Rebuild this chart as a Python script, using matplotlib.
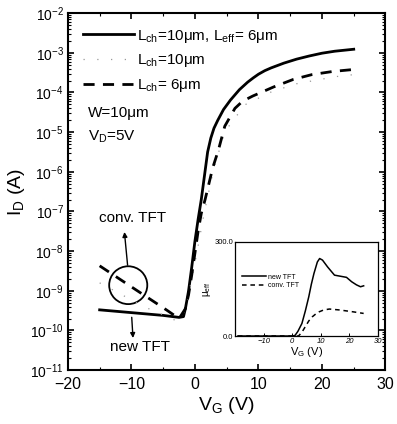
import numpy as np
import matplotlib
matplotlib.use("Agg")
import matplotlib.pyplot as plt
from matplotlib.patches import Ellipse
from matplotlib.ticker import LogLocator, FixedLocator, FormatStrFormatter, MultipleLocator

plt.rcParams['font.family'] = ['Liberation Sans', 'DejaVu Sans']
plt.rcParams['mathtext.fontset'] = 'custom'
plt.rcParams['mathtext.rm'] = 'Liberation Sans'
plt.rcParams['mathtext.it'] = 'Liberation Sans:italic'
plt.rcParams['mathtext.default'] = 'regular'

# --- main transfer curves (log10 of I_D) ---
vg_new = [-15, -10, -5, -2.5, -1.8, -1.5, -1, -0.5, 0, 0.5, 1, 1.5, 2, 2.5, 3,
          3.6, 4.5, 5.6, 7, 8.3, 9.2, 10, 11, 12, 14, 16, 18, 20, 22, 25]
log_id_new = [-9.48, -9.55, -9.62, -9.67, -9.65, -9.45, -9.0, -8.4, -7.75, -7.2,
              -6.7, -6.1, -5.5, -5.15, -4.9, -4.7, -4.43, -4.19, -3.93, -3.74,
              -3.63, -3.54, -3.45, -3.38, -3.26, -3.16, -3.08, -3.01, -2.96, -2.91]

vg_short = [-15, -10, -4.5, -2.5, -1.5, -1, -0.5, 0, 0.5, 1, 1.6, 2.2, 2.8, 3.7,
            4.7, 6.3, 7.5, 9.1, 12.4, 15.5, 18.4, 21.7, 25]
log_id_short = [-8.37, -8.9, -9.48, -9.7, -9.45, -9.1, -8.6, -8.05, -7.5, -7.05,
                -6.7, -6.3, -5.9, -5.45, -4.85, -4.4, -4.22, -4.09, -3.86, -3.67,
                -3.55, -3.47, -3.42]

vg_long = [-15, -8, -3, -1.5, 0, 1.5, 3, 4.5, 5.6, 8, 12.1, 16, 22.2, 25]
log_id_long = [-8.8, -9.4, -9.75, -9.5, -8.3, -7.0, -5.9, -5.1, -4.78, -4.3,
               -3.98, -3.78, -3.6, -3.55]

# --- inset: effective mobility ---
vg_mu_new = [-19, 0, 1, 2, 3.4, 4.6, 5.8, 6.7, 7.6, 8.8, 9.6, 10.6, 12.4, 14.8,
             16.6, 19, 20.8, 22.5, 23.9, 25]
mu_new = [0, 0, 2, 15, 40, 80, 125, 165, 199, 236, 247, 242, 220, 194, 191, 187,
          173, 163, 157, 160]
vg_mu_conv = [-19, 1, 2.2, 3.4, 4.6, 5.8, 7, 8.2, 9.4, 11, 13, 16.6, 21.4, 25]
mu_conv = [0, 0, 0, 12, 30, 48, 61, 70, 77, 83, 86, 83, 77, 72]

x_ticks = [-20, -10, 0, 10, 20, 30]
inset_x_ticks = [-10, 0, 10, 20, 30]
inset_y_ticks = [0, 300]

fig = plt.figure(figsize=(3.97, 4.24), dpi=100)
ax = fig.add_axes([0.171, 0.127, 0.80, 0.842])

ax.plot(vg_new, 10.0 ** np.array(log_id_new), color='black', lw=2.0,
        label=r'L$_{ch}$=10μm, L$_{eff}$= 6μm')
ax.plot(vg_long, 10.0 ** np.array(log_id_long), color='0.6', lw=0.9,
        ls=(0, (1, 10)), label=r'L$_{ch}$=10μm')
ax.plot(vg_short, 10.0 ** np.array(log_id_short), color='black', lw=2.0,
        ls=(0, (4, 3)), label=r'L$_{ch}$= 6μm')

ax.set_yscale('log')
ax.set_xlim(-20, 30)
ax.set_ylim(1e-11, 1e-2)
ax.xaxis.set_major_locator(FixedLocator(x_ticks))
ax.xaxis.set_minor_locator(MultipleLocator(5))
ax.yaxis.set_major_locator(LogLocator(base=10, numticks=20))
ax.yaxis.set_minor_locator(LogLocator(base=10, subs=np.arange(2, 10), numticks=100))
ax.yaxis.set_minor_formatter(plt.NullFormatter())
ax.tick_params(which='both', direction='in', top=True, right=True)
ax.tick_params(which='major', length=4, width=1.2)
ax.tick_params(which='minor', length=2, width=0.8)
ax.tick_params(axis='x', labelsize=11.5, pad=5)
ax.tick_params(axis='y', labelsize=10, pad=3)
for s in ax.spines.values():
    s.set_linewidth(1.5)

ax.set_xlabel(r'V$_G$ (V)', fontsize=14, labelpad=2)
ax.set_ylabel(r'I$_D$ (A)', fontsize=14, labelpad=2)

ax.legend(loc='upper left', bbox_to_anchor=(0.02, 0.985), frameon=False,
          fontsize=11, handlelength=3.3, handletextpad=0.2, labelspacing=0.5,
          borderaxespad=0.2)
ax.text(0.062, 0.72, 'W=10μm', transform=ax.transAxes, fontsize=11, va='center')
ax.text(0.062, 0.653, r'V$_D$=5V', transform=ax.transAxes, fontsize=11, va='center')

# circle and arrows
ax.add_patch(Ellipse((0.19, 0.238), 0.12, 0.106, transform=ax.transAxes,
                     fill=False, lw=1.3, color='black'))
ax.text(0.205, 0.426, 'conv. TFT', transform=ax.transAxes, fontsize=11,
        ha='center', va='center')
ax.text(0.227, 0.064, 'new TFT', transform=ax.transAxes, fontsize=11,
        ha='center', va='center')
ax.annotate('', xy=(0.178, 0.387), xytext=(0.188, 0.294),
            xycoords='axes fraction', textcoords='axes fraction',
            arrowprops=dict(arrowstyle='-|>', color='black', lw=1.0,
                            mutation_scale=7, shrinkA=0, shrinkB=0))
ax.annotate('', xy=(0.205, 0.09), xytext=(0.201, 0.148),
            xycoords='axes fraction', textcoords='axes fraction',
            arrowprops=dict(arrowstyle='-|>', color='black', lw=1.0,
                            mutation_scale=7, shrinkA=0, shrinkB=0))

# inset
axi = fig.add_axes([0.592, 0.2075, 0.36, 0.222])
axi.plot(vg_mu_new, mu_new, color='black', lw=1.1, label='new TFT')
axi.plot(vg_mu_conv, mu_conv, color='black', lw=1.1, ls=(0, (3, 2.5)),
         label='conv. TFT')
axi.set_xlim(-20, 30)
axi.set_ylim(0, 300)
axi.xaxis.set_major_locator(FixedLocator(inset_x_ticks))
axi.yaxis.set_major_locator(FixedLocator(inset_y_ticks))
axi.yaxis.set_major_formatter(FormatStrFormatter('%.1f'))
axi.tick_params(direction='in', length=2, width=0.7, labelsize=5.5, pad=1.5)
for lab in axi.get_xticklabels():
    lab.set_fontstyle('italic')
for s in axi.spines.values():
    s.set_linewidth(0.9)
axi.set_xlabel(r'V$_G$ (V)', fontsize=8, labelpad=0)
axi.set_ylabel(r'μ$_{eff}$', fontsize=7, labelpad=1)
axi.legend(loc='upper left', bbox_to_anchor=(0.03, 0.69), frameon=False,
           fontsize=5, handlelength=3.5, handletextpad=0.3, labelspacing=0.2,
           borderaxespad=0.0)

fig.savefig('out.png', dpi=100)
